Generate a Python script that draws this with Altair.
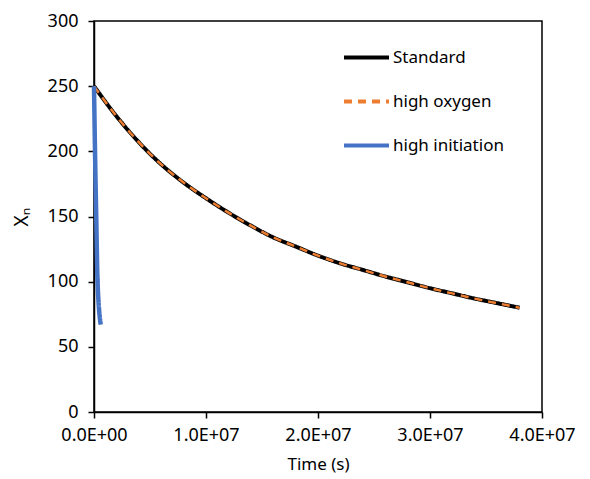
import altair as alt
import pandas as pd

series_names = ["Standard", "high oxygen", "high initiation"]
series_colors = ["#000000", "#ED7D31", "#4472C4"]
series_dash = [[1, 0], [8, 6], [1, 0]]

t_std = [0, 2e6, 4e6, 6e6, 8e6, 1e7, 1.2e7, 1.4e7, 1.6e7, 1.8e7, 2e7,
         2.2e7, 2.4e7, 2.6e7, 2.8e7, 3e7, 3.2e7, 3.4e7, 3.6e7, 3.8e7]
x_std = [250, 227, 207, 190, 176, 164, 153, 143, 134, 127, 120,
         114, 109, 104, 99.5, 95, 91, 87, 83.5, 80]

t_init = [0, 1e5, 2e5, 3e5, 4e5, 5e5, 6e5]
x_init = [250, 195, 150, 105, 85, 74, 67]

df_std = pd.DataFrame({"t": t_std, "x": x_std, "series": "Standard"})
df_oxy = pd.DataFrame({"t": t_std, "x": x_std, "series": "high oxygen"})
df_init = pd.DataFrame({"t": t_init, "x": x_init, "series": "high initiation"})

font = "Noto Sans"

x_enc = alt.X("t:Q", scale=alt.Scale(domain=[0, 4e7], nice=False),
              axis=alt.Axis(title="Time (s)", values=[0, 1e7, 2e7, 3e7, 4e7],
                            labelExpr="replace(upper(format(datum.value, '.1e')), 'E+', 'E+0')",
                            labelFlush=False, grid=False, titlePadding=12))
y_enc = alt.Y("x:Q", scale=alt.Scale(domain=[0, 300], nice=False),
              axis=alt.Axis(title="Xₙ", values=[0, 50, 100, 150, 200, 250, 300], grid=False,
                            titleFontSize=19, titlePadding=16, labelPadding=10))
color_enc = alt.Color("series:N", title=None,
                      scale=alt.Scale(domain=series_names, range=series_colors),
                      legend=alt.Legend(orient="none", legendX=248, legendY=12))
dash_enc = alt.StrokeDash("series:N", title=None,
                          scale=alt.Scale(domain=series_names, range=series_dash))


def layer(d, width):
    return alt.Chart(d).mark_line(strokeCap="butt", strokeWidth=width, interpolate="monotone").encode(
        x=x_enc, y=y_enc, color=color_enc, strokeDash=dash_enc)


chart = alt.layer(
    layer(df_std, 4),
    layer(df_oxy, 2.5),
    layer(df_init, 4.5),
).properties(
    width=448, height=391,
    autosize=alt.AutoSizeParams(type="none"),
    padding={"left": 86, "top": 13, "right": 36, "bottom": 68},
).configure_view(
    stroke="#000000", strokeWidth=1.5
).configure_axis(
    domainColor="#000000", tickColor="#000000", tickSize=6, domainWidth=1.5, tickWidth=1.5,
    labelFont=font, labelFontSize=18, labelColor="#000000", labelPadding=8,
    titleFont=font, titleFontSize=17, titleColor="#000000", titleFontWeight="normal",
).configure_legend(
    symbolType="stroke", symbolSize=2025, labelFont=font, labelFontSize=17,
    labelColor="#000000", rowPadding=11, labelOffset=2, symbolStrokeWidth=4,
)

chart.save("out.html", embed_options={"renderer": "svg", "actions": False})
